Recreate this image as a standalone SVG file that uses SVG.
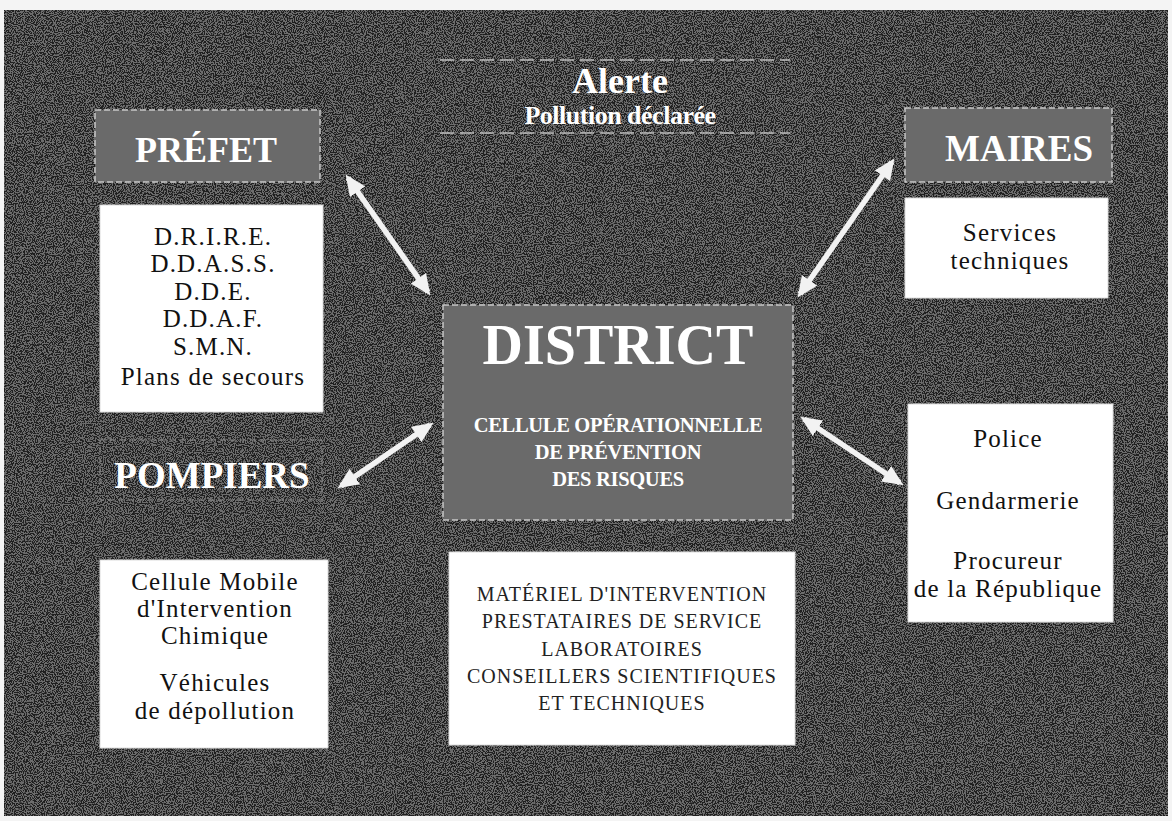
<svg xmlns="http://www.w3.org/2000/svg" width="1172" height="821" viewBox="0 0 1172 821">
<style>
.bg{fill:#1f1f1f}
.head{fill:#6a6a6a;stroke:#c8c8c8;stroke-width:1.5;stroke-dasharray:6 3}
.wbox{fill:#ffffff;stroke:#dcdcdc;stroke-width:1}
.ht{font-family:"Liberation Serif","DejaVu Serif",serif;font-weight:bold;fill:#ffffff;text-anchor:middle}
.bt{font-family:"Liberation Serif","DejaVu Serif",serif;fill:#111111;text-anchor:middle;font-size:25px;letter-spacing:1.2px}
.ct{font-family:"Liberation Serif","DejaVu Serif",serif;fill:#222222;text-anchor:middle;font-size:20px;letter-spacing:1px}
.arr{stroke:#f2f2f2;stroke-width:5.5;fill:none;marker-start:url(#ah);marker-end:url(#ah)}
.dash{stroke:#bdbdbd;stroke-width:1.5;stroke-dasharray:14 6}
</style>
<defs>
<marker id="ah" viewBox="0 0 10 10" refX="8" refY="5" markerWidth="3.8" markerHeight="3.4" preserveAspectRatio="none" orient="auto-start-reverse" markerUnits="strokeWidth">
<path d="M0,0 L10,5 L0,10 z" fill="#f2f2f2"/>
</marker>
<filter id="speck" x="0" y="0" width="100%" height="100%">
<feTurbulence type="fractalNoise" baseFrequency="0.9" numOctaves="1" seed="3" result="n"/>
<feColorMatrix in="n" type="matrix" values="0 0 0 0 1  0 0 0 0 1  0 0 0 0 1  0 0 0 -14 7.6" result="s"/>
<feComposite in="s" in2="SourceGraphic" operator="in"/>
</filter>
</defs>
<rect x="0" y="0" width="1172" height="821" fill="#f4f4f4"/>
<rect class="bg" x="4" y="10" width="1164" height="806"/>
<rect x="4" y="10" width="1164" height="806" fill="#000" filter="url(#speck)" opacity="0.35"/>

<g id="alerte">
<line class="dash" x1="440" y1="60" x2="790" y2="60"/>
<line class="dash" x1="440" y1="133" x2="790" y2="133"/>
<text class="ht" x="620" y="93" font-size="36">Alerte</text>
<text class="ht" x="620" y="124" font-size="26" letter-spacing="-0.5">Pollution déclarée</text>
</g>

<g id="prefet">
<rect class="head" x="95" y="110" width="225" height="72"/>
<text class="ht" x="206" y="162" font-size="36">PRÉFET</text>
</g>

<g id="prefet-services">
<rect class="wbox" x="100" y="205" width="223" height="207"/>
<text class="bt" x="213" y="245">D.R.I.R.E.</text>
<text class="bt" x="213" y="272">D.D.A.S.S.</text>
<text class="bt" x="213" y="300">D.D.E.</text>
<text class="bt" x="213" y="327">D.D.A.F.</text>
<text class="bt" x="213" y="355">S.M.N.</text>
<text class="bt" x="213" y="385">Plans de secours</text>
</g>

<g id="pompiers">
<rect x="100" y="440" width="222" height="60" fill="none" stroke="#8a8a8a" stroke-width="1" stroke-dasharray="6 4"/>
<text class="ht" x="212" y="488" font-size="37">POMPIERS</text>
</g>

<g id="pompiers-services">
<rect class="wbox" x="100" y="560" width="228" height="188"/>
<text class="bt" x="215" y="590">Cellule Mobile</text>
<text class="bt" x="215" y="617">d'Intervention</text>
<text class="bt" x="215" y="644">Chimique</text>
<text class="bt" x="215" y="691">Véhicules</text>
<text class="bt" x="215" y="719">de dépollution</text>
</g>

<g id="district">
<rect class="head" x="443" y="305" width="350" height="215"/>
<text class="ht" x="618" y="364" font-size="56">DISTRICT</text>
<text class="ht" x="618" y="432" font-size="20.5" letter-spacing="-0.3">CELLULE OPÉRATIONNELLE</text>
<text class="ht" x="618" y="459" font-size="20.5" letter-spacing="-0.3">DE PRÉVENTION</text>
<text class="ht" x="618" y="486" font-size="20.5" letter-spacing="-0.3">DES RISQUES</text>
</g>

<g id="moyens">
<rect class="wbox" x="449" y="552" width="346" height="193"/>
<text class="ct" x="622" y="601">MATÉRIEL D'INTERVENTION</text>
<text class="ct" x="622" y="628">PRESTATAIRES DE SERVICE</text>
<text class="ct" x="622" y="656">LABORATOIRES</text>
<text class="ct" x="622" y="683">CONSEILLERS SCIENTIFIQUES</text>
<text class="ct" x="622" y="710">ET TECHNIQUES</text>
</g>

<g id="maires">
<rect class="head" x="905" y="108" width="207" height="74"/>
<text class="ht" x="1019" y="161" font-size="37">MAIRES</text>
</g>

<g id="maires-services">
<rect class="wbox" x="905" y="198" width="203" height="100"/>
<text class="bt" x="1010" y="241">Services</text>
<text class="bt" x="1010" y="269">techniques</text>
</g>

<g id="justice">
<rect class="wbox" x="908" y="404" width="205" height="218"/>
<text class="bt" x="1008" y="447">Police</text>
<text class="bt" x="1008" y="509">Gendarmerie</text>
<text class="bt" x="1008" y="569">Procureur</text>
<text class="bt" x="1008" y="597">de la République</text>
</g>

<g id="connectors">
<line class="arr" x1="348" y1="178" x2="428" y2="292"/>
<line class="arr" x1="892" y1="162" x2="800" y2="294"/>
<line class="arr" x1="341" y1="486" x2="430" y2="425"/>
<line class="arr" x1="804" y1="419" x2="900" y2="483"/>
</g>
</svg>
